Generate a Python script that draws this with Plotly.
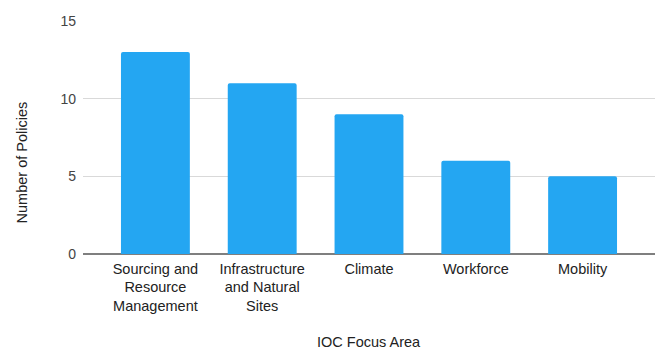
import plotly.graph_objects as go

categories = ["Sourcing and<br>Resource<br>Management", "Infrastructure<br>and Natural<br>Sites", "Climate", "Workforce", "Mobility"]
values = [13, 11, 9, 6, 5]
y_ticks = [0, 5, 10, 15]

FONT = "Liberation Sans, Arial, sans-serif"

fig = go.Figure(go.Bar(
    x=list(range(len(categories))),
    y=values,
    marker=dict(color="#24a6f2", line=dict(width=0)),
    hoverinfo="skip",
))

fig.update_layout(
    width=658, height=350,
    margin=dict(l=83, r=3, t=21, b=96),
    paper_bgcolor="white", plot_bgcolor="white",
    bargap=0.355,
    barcornerradius=2,
    showlegend=False,
    font=dict(family=FONT, size=13, color="#222222"),
    xaxis=dict(
        range=[-0.678, 4.678],
        tickmode="array",
        tickvals=list(range(len(categories))),
        ticktext=categories,
        tickfont=dict(size=14.5, color="#222222"),
        showgrid=False,
        zeroline=False,
        showline=False,
        ticks="",
        ticklabelstandoff=4,
        fixedrange=True,
    ),
    yaxis=dict(
        range=[0, 15],
        tickvals=y_ticks,
        tickfont=dict(size=14, color="#444444"),
        showgrid=True,
        gridcolor="#d9d9d9",
        gridwidth=1,
        zeroline=True,
        zerolinecolor="#7f7f7f",
        zerolinewidth=1.5,
        showline=False,
        ticks="",
        ticklabelstandoff=6,
        fixedrange=True,
    ),
    annotations=[
        dict(text="IOC Focus Area", xref="paper", yref="paper", x=0.5, y=0,
             xanchor="center", yanchor="middle", yshift=-88, showarrow=False,
             font=dict(size=14.5, color="#222222")),
        dict(text="Number of Policies", xref="paper", yref="paper", x=0, y=0.393,
             xanchor="center", yanchor="middle", xshift=-61, textangle=-90, showarrow=False,
             font=dict(size=14.5, color="#222222")),
    ],
)

fig.write_html("out.html")
